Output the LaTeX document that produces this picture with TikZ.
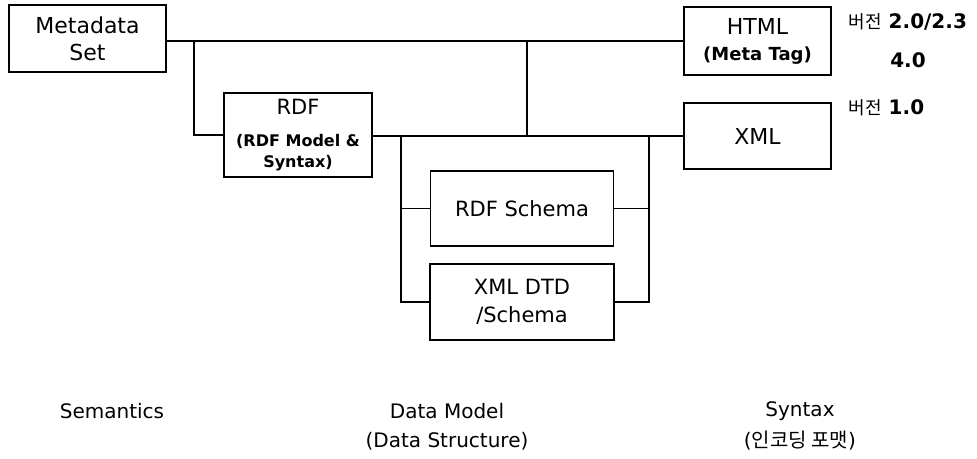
\documentclass[tikz,border=0pt]{standalone}
\usepackage{fontspec}
\setmainfont{DejaVu Sans}
\newfontfamily\kr{Noto Sans CJK KR}
\newcommand{\fsz}[1]{\fontsize{#1}{#1}\selectfont}
\begin{document}
\begin{tikzpicture}[x=1pt,y=-1pt,line width=1.3pt,
  box/.style={draw,rectangle,inner sep=0pt,align=center,font=\fsz{21}},
  wire/.style={line width=1.3pt},
  note/.style={inner sep=0pt,anchor=west,font=\bfseries\fsz{20}},
  caption/.style={inner sep=0pt,font=\fsz{20}}]
\useasboundingbox (0,0) rectangle (977,458);

% boxes
\node[box,minimum width=157,minimum height=67,font=\fontsize{22}{27}\selectfont]
  (meta) at (87.5,38.5) {Metadata\\Set};
\node[box,minimum width=147,minimum height=68,font=\fontsize{22}{26}\selectfont]
  (html) at (757.5,41) {HTML\\{\bfseries\fsz{18}(Meta Tag)}};
\node[box,minimum width=147,minimum height=66,font=\fsz{22}] (xml) at (757.5,136) {XML};
\node[box,minimum width=148,minimum height=84,font=\bfseries\fontsize{16}{21}\selectfont]
  (rdf) at (298,135) {{\mdseries\fsz{21}RDF}\\[11pt](RDF Model \&\\Syntax)};
\node[box,minimum width=183,minimum height=75] (schema) at (522,208.5) {RDF Schema};
\node[box,minimum width=184,minimum height=76,font=\fontsize{21}{28}\selectfont]
  (dtd) at (522,302) {XML DTD\\/Schema};

% junction points
\coordinate (jmeta) at (194,41);
\coordinate (jtop) at (527,41);
\coordinate (jl) at (401,136);
\coordinate (jr) at (649,136);

% connectors
\draw[wire] (meta.east |- html.west) -- (html.west);
\draw[wire] (jmeta) |- (rdf.west);
\draw[wire] (rdf.east |- xml.west) -- (xml.west);
\draw[wire] (jtop) -- (jtop |- xml.west);
\draw[wire] (jl) |- (schema.west);
\draw[wire] (jl) |- (dtd.west);
\draw[wire] (jr) |- (schema.east);
\draw[wire] (jr) |- (dtd.east);

% version notes
\node[note] (v1) at (848,22) {{\kr\mdseries\fsz{18}버전} 2.0/2.3};
\node[note,anchor=center] (v2) at (908,60) {4.0};
\node[note] (v3) at (848,108) {{\kr\mdseries\fsz{18}버전} 1.0};

% layer captions
\node[caption] (sem) at (112,411) {Semantics};
\node[caption] (dm) at (447,411) {Data Model};
\node[caption] (ds) at (447,441) {(Data Structure)};
\node[caption] (syn) at (800,411) {Syntax};
\node[caption] (enc) at (800,441) {({\kr 인코딩 포맷})};
\end{tikzpicture}
\end{document}
